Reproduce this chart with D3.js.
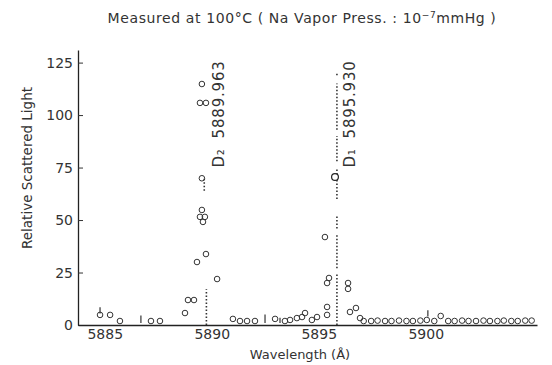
<!DOCTYPE html>
<html>
<head>
<meta charset="utf-8">
<script src="https://cdn.jsdelivr.net/npm/d3@7"></script>
<style>
  body { margin: 0; background: #fff; }
  text { font-family: "DejaVu Sans", sans-serif; fill: #333; }
</style>
</head>
<body>
<svg id="chart" width="552" height="365"></svg>
<script>
// measured points: [wavelength, relative scattered light]
var points = [
  [5884.78, 4.8], [5885.25, 4.8], [5885.71, 1.9], [5887.16, 1.9], [5887.58, 1.9],
  [5888.75, 5.7], [5888.89, 11.9], [5889.17, 11.9], [5889.31, 30.0], [5889.73, 33.8],
  [5890.25, 21.9], [5889.54, 54.8], [5889.45, 51.5], [5889.68, 51.5], [5889.59, 49.1],
  [5889.54, 69.9], [5889.54, 114.8], [5889.45, 105.8], [5889.73, 105.8],
  [5890.99, 2.9], [5891.32, 1.9], [5891.65, 1.9], [5892.02, 1.9], [5892.96, 2.9],
  [5893.42, 1.9], [5893.66, 2.4], [5893.98, 3.3], [5894.22, 3.8], [5894.36, 5.7],
  [5894.68, 2.4], [5894.92, 3.8], [5895.39, 4.8], [5895.39, 8.6], [5895.39, 20.0],
  [5895.48, 22.4], [5895.29, 41.9], [5896.37, 20.0], [5896.37, 17.2], [5896.46, 6.2],
  [5896.74, 8.1], [5896.93, 3.3]
];
// flat tail to the right
var tailWl = [5897.1, 5897.45, 5897.75, 5898.1, 5898.4, 5898.75, 5899.1, 5899.4, 5899.75,
  5900.05, 5900.4, 5900.7, 5901.05, 5901.35, 5901.7, 5902.0, 5902.35, 5902.7, 5903.0,
  5903.35, 5903.65, 5904.0, 5904.3, 5904.65, 5904.95];
var tailVal = [1.9, 1.9, 2.1, 1.9, 1.9, 2.1, 1.9, 1.9, 2.1,
  2.4, 1.9, 4.3, 1.9, 1.9, 2.1, 1.9, 1.9, 2.1, 1.9,
  1.9, 2.1, 1.9, 1.9, 2.1, 2.1];
// big circle on the D1 line
var peakD1 = [[5895.76, 70.5]];
// small vertical strokes: [wavelength, low, high]
var strokes = [[5884.78, 5.5, 8.5], [5886.69, 1.0, 4.5], [5892.49, 1.0, 5.0], [5893.19, 1.0, 3.5], [5900.1, 4.0, 7.0]];
// dotted lines: [wavelength, from, to]
var d2Dots = [[5889.75, 0, 17], [5889.65, 64, 70]];
var d1Dots = [[5895.85, 0, 24], [5895.85, 27, 43], [5895.85, 46, 52], [5895.85, 60, 75],
  [5895.85, 78, 90], [5895.85, 93, 115], [5895.85, 119, 120.5]];
var lines = [
  {name: "D\u2082", wl: "5889.963", at: 5889.75},
  {name: "D\u2081", wl: "5895.930", at: 5895.85}
];
var xTicks = [5885, 5890, 5895, 5900];
var yTicks = [0, 25, 50, 75, 100, 125];

var svg = d3.select("#chart");
var x = d3.scaleLinear().domain([5883.75, 5905.2]).range([78, 537]);
var y = d3.scaleLinear().domain([0, 131]).range([325, 50]);

// axes
var yAxis = d3.axisLeft(y).tickValues(yTicks).tickSizeInner(-5).tickSizeOuter(0).tickPadding(5);
svg.append("g").attr("transform", "translate(78,0)").call(yAxis)
  .call(function(g) {
    g.select(".domain").attr("stroke", "#222").attr("stroke-width", 1.3);
    g.selectAll(".tick line").attr("stroke", "#333");
    g.selectAll("text").attr("font-size", 14).attr("fill", "#444")
      .attr("font-family", "'DejaVu Sans', sans-serif");
  });

var xAxis = d3.axisBottom(x).tickValues(xTicks).tickFormat(d3.format("d")).tickSize(0).tickPadding(4);
svg.append("g").attr("transform", "translate(0,325)").call(xAxis)
  .call(function(g) {
    g.select(".domain").attr("stroke", "#222").attr("stroke-width", 1.3);
    g.selectAll("text").attr("font-size", 14).attr("fill", "#444")
      .attr("font-family", "'DejaVu Sans', sans-serif");
  });

// dotted lines
svg.selectAll(".dots").data(d2Dots.concat(d1Dots)).enter().append("line")
  .attr("x1", function(d) { return x(d[0]); })
  .attr("x2", function(d) { return x(d[0]); })
  .attr("y1", function(d) { return y(d[1]); })
  .attr("y2", function(d) { return y(d[2]); })
  .attr("stroke", "#333")
  .attr("stroke-width", 1.6)
  .attr("stroke-dasharray", "1.5,2");

svg.selectAll(".stroke").data(strokes).enter().append("line")
  .attr("x1", function(d) { return x(d[0]); })
  .attr("x2", function(d) { return x(d[0]); })
  .attr("y1", function(d) { return y(d[1]); })
  .attr("y2", function(d) { return y(d[2]); })
  .attr("stroke", "#333")
  .attr("stroke-width", 1.2);

// circles
var tail = tailWl.map(function(w, i) { return [w, tailVal[i]]; });
svg.selectAll(".pt").data(points.concat(tail)).enter().append("circle")
  .attr("cx", function(d) { return x(d[0]); })
  .attr("cy", function(d) { return y(d[1]); })
  .attr("r", 2.8)
  .attr("fill", "none")
  .attr("stroke", "#333")
  .attr("stroke-width", 1);

svg.selectAll(".pk").data(peakD1).enter().append("circle")
  .attr("cx", function(d) { return x(d[0]); })
  .attr("cy", function(d) { return y(d[1]); })
  .attr("r", 3.4)
  .attr("fill", "#fff")
  .attr("stroke", "#222")
  .attr("stroke-width", 1.2);

// line labels, rotated
lines.forEach(function(l) {
  var t = svg.append("text")
    .attr("transform", "translate(" + (x(l.at) + 18) + "," + y(75) + ") rotate(-90)")
    .attr("font-size", 15)
    .attr("letter-spacing", 0.8)
    .attr("fill", "#444");
  t.append("tspan").text(l.name);
  t.append("tspan").attr("dx", 10).text(l.wl);
});

// titles
var title = svg.append("text")
  .attr("x", 302).attr("y", 23)
  .attr("text-anchor", "middle")
  .attr("font-size", 14)
  .attr("letter-spacing", 0.6)
  .attr("fill", "#555");
title.append("tspan").text("Measured at 100\u00B0C ( Na Vapor Press. : 10");
title.append("tspan").attr("dy", -5).attr("font-size", 9).text("\u22127");
title.append("tspan").attr("dy", 5).text("mmHg )");

svg.append("text")
  .attr("x", 300).attr("y", 359)
  .attr("text-anchor", "middle")
  .attr("font-size", 13)
  .attr("fill", "#444")
  .text("Wavelength (\u00C5)");

svg.append("text")
  .attr("transform", "translate(32,168) rotate(-90)")
  .attr("text-anchor", "middle")
  .attr("font-size", 13.5)
  .attr("fill", "#444")
  .text("Relative Scattered Light");
</script>
</body>
</html>
